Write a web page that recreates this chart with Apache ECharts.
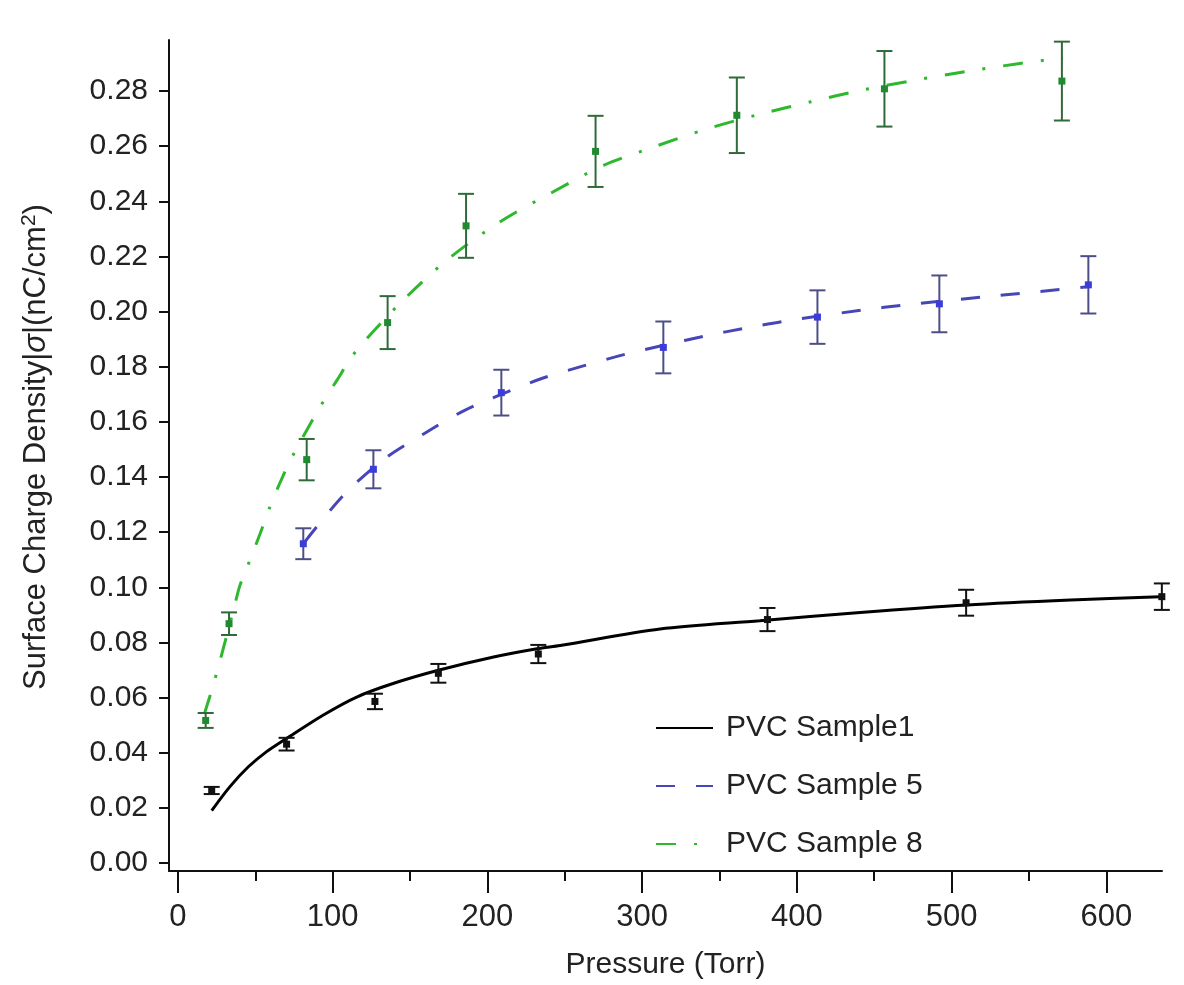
<!DOCTYPE html>
<html>
<head>
<meta charset="utf-8">
<script src="https://cdn.jsdelivr.net/npm/echarts@6/dist/echarts.min.js"></script>
<style>
html,body{margin:0;padding:0;background:#fff;}
#chart{width:1184px;height:985px;}
</style>
</head>
<body>
<div id="chart"></div>
<script>
// ---- tick labels ----
const yTicks = [0, 0.02, 0.04, 0.06, 0.08, 0.10, 0.12, 0.14, 0.16, 0.18, 0.20, 0.22, 0.24, 0.26, 0.28];
const xMajorTicks = [0, 100, 200, 300, 400, 500, 600];
const xMinorTicks = [50, 150, 250, 350, 450, 550];

// ---- series names ----
const seriesNames = ['PVC Sample1', 'PVC Sample 5', 'PVC Sample 8'];

// ---- measured points (pressure, density, error) ----
const s1X = [21.8, 70.2, 127.3, 168.3, 232.9, 381, 509.4, 635.9];
const s1Y = [0.0263, 0.0431, 0.0586, 0.0688, 0.0758, 0.0883, 0.0944, 0.0966];
const s1Err = [0.0013, 0.0023, 0.0028, 0.0034, 0.0033, 0.0042, 0.0047, 0.0048];

const s5X = [81, 126.3, 209, 313.7, 413.3, 492.1, 588.4];
const s5Y = [0.1158, 0.1428, 0.1706, 0.187, 0.198, 0.2028, 0.2097];
const s5Err = [0.0056, 0.0069, 0.0083, 0.0094, 0.0097, 0.0103, 0.0104];

const s8X = [17.9, 33, 83.2, 135.5, 186.2, 269.9, 361.2, 456.6, 571.3];
const s8Y = [0.0517, 0.0868, 0.1463, 0.196, 0.2311, 0.2581, 0.2712, 0.2808, 0.2836];
const s8Err = [0.0027, 0.0041, 0.0075, 0.0096, 0.0116, 0.0129, 0.0137, 0.0137, 0.0143];

// ---- fitted curves ----
const fit1X = [21.8, 33.6, 45.5, 57.3, 70.2, 94, 115.5, 139, 168.3, 204, 232, 247, 311.6, 376, 441, 510, 577, 635];
const fit1Y = [0.019, 0.0277, 0.0349, 0.0404, 0.0452, 0.0537, 0.0602, 0.0651, 0.0699, 0.0747, 0.0777, 0.0789, 0.0849, 0.0879, 0.0909, 0.0936, 0.0954, 0.0966];

const fit5X = [82, 107, 133, 159, 184, 209, 236, 262, 289, 314, 341, 367, 393, 443, 470, 522, 548, 579, 588];
const fit5Y = [0.1165, 0.1334, 0.1464, 0.1557, 0.1638, 0.170, 0.1759, 0.1803, 0.1845, 0.1878, 0.1912, 0.194, 0.1966, 0.2006, 0.2024, 0.2054, 0.2068, 0.2085, 0.209];

const fit8X = [17, 22, 27, 36, 40, 45.5, 53, 59, 66, 73.5, 92, 103, 114, 143.5, 175, 208, 242, 275, 308, 341.5, 374, 409, 442, 474, 509, 543, 572];
const fit8Y = [0.054, 0.063, 0.073, 0.092, 0.1006, 0.1084, 0.1193, 0.1286, 0.138, 0.147, 0.1656, 0.1753, 0.1849, 0.203, 0.2192, 0.2325, 0.2433, 0.253, 0.2598, 0.2662, 0.2713, 0.2761, 0.2803, 0.2837, 0.287, 0.2899, 0.292];

function zip(a, b, c) { return a.map((v, i) => c ? [v, b[i], c[i]] : [v, b[i]]); }

function errRenderer(barColor, dotColor) {
  return function (params, api) {
    const x = api.value(0), y = api.value(1), e = api.value(2);
    const t = api.coord([x, y + e]);
    const b = api.coord([x, y - e]);
    const c = api.coord([x, y]);
    const hw = 8;
    const st = { stroke: barColor, lineWidth: 2 };
    return {
      type: 'group',
      children: [
        { type: 'line', shape: { x1: t[0], y1: t[1], x2: b[0], y2: b[1] }, style: st },
        { type: 'line', shape: { x1: t[0] - hw, y1: t[1], x2: t[0] + hw, y2: t[1] }, style: st },
        { type: 'line', shape: { x1: b[0] - hw, y1: b[1], x2: b[0] + hw, y2: b[1] }, style: st },
        { type: 'rect', shape: { x: c[0] - 3.5, y: c[1] - 3.5, width: 7, height: 7 }, style: { fill: dotColor } }
      ]
    };
  };
}

const FONT = "'Liberation Sans', Arial, sans-serif";
const chart = echarts.init(document.getElementById('chart'), null, { renderer: 'canvas' });

const option = {
  backgroundColor: '#ffffff',
  animation: false,
  grid: { left: 169, right: 22, top: 40, bottom: 112, containLabel: false },
  legend: {
    data: seriesNames,
    orient: 'vertical',
    left: 650,
    top: 708,
    itemWidth: 57,
    itemHeight: 14,
    itemGap: 28,
    itemStyle: { opacity: 0 },
    textStyle: { fontFamily: FONT, fontSize: 30, color: '#222', lineHeight: 30, padding: [0, 0, 0, 8] }
  },
  xAxis: [
    {
      type: 'value', min: -5.8, max: 636, position: 'bottom',
      name: 'Pressure (Torr)', nameLocation: 'middle', nameGap: 79,
      nameTextStyle: { fontFamily: FONT, fontSize: 30, color: '#222' },
      axisLine: { show: true, onZero: false, lineStyle: { color: '#111', width: 2 } },
      axisTick: { show: true, inside: false, length: 22, customValues: xMajorTicks, lineStyle: { color: '#111', width: 2 } },
      axisLabel: { show: true, customValues: xMajorTicks, margin: 31, fontFamily: FONT, fontSize: 31, color: '#222' },
      splitLine: { show: false }
    },
    {
      type: 'value', min: -5.8, max: 636, position: 'bottom',
      axisLine: { show: false, onZero: false },
      axisTick: { show: true, inside: false, length: 10, customValues: xMinorTicks, lineStyle: { color: '#111', width: 2 } },
      axisLabel: { show: false },
      splitLine: { show: false }
    }
  ],
  yAxis: {
    type: 'value', min: -0.0029, max: 0.2985,
    axisLine: { show: true, onZero: false, lineStyle: { color: '#111', width: 2 } },
    axisTick: { show: true, inside: false, length: 10, customValues: yTicks, lineStyle: { color: '#111', width: 2 } },
    axisLabel: { show: true, customValues: yTicks, margin: 21, fontFamily: FONT, fontSize: 30, color: '#222',
      formatter: v => v.toFixed(2) },
    splitLine: { show: false }
  },
  graphic: [
    {
      type: 'text', x: 36, y: 447, rotation: Math.PI / 2,
      style: {
        text: 'Surface Charge Density|{i|σ}|(nC/cm{sup|2})',
        fontFamily: FONT, fontSize: 31, fill: '#222',
        align: 'center', verticalAlign: 'middle',
        rich: {
          i: { fontFamily: FONT, fontSize: 31, fontStyle: 'italic', fill: '#222' },
          sup: { fontFamily: FONT, fontSize: 21, fill: '#222', verticalAlign: 'top', padding: [0, 0, 14, 0] }
        }
      }
    }
  ],
  series: [
    {
      name: seriesNames[0], type: 'line', data: zip(fit1X, fit1Y), smooth: 0.3,
      symbol: 'none', lineStyle: { color: '#000', width: 3, type: 'solid' }, itemStyle: { color: '#000' }, z: 3
    },
    {
      name: seriesNames[1], type: 'line', data: zip(fit5X, fit5Y), smooth: 0.3,
      symbol: 'none', lineStyle: { color: '#4646b8', width: 3, type: [19, 21] }, itemStyle: { color: '#4646b8' }, z: 3
    },
    {
      name: seriesNames[2], type: 'line', data: zip(fit8X, fit8Y), smooth: 0.3,
      symbol: 'none', lineStyle: { color: '#2db82d', width: 3, type: [20, 18, 3, 18] }, itemStyle: { color: '#2db82d' }, z: 3
    },
    {
      name: 'err1', type: 'custom', data: zip(s1X, s1Y, s1Err), renderItem: errRenderer('#111', '#111'),
      encode: { x: 0, y: 1 }, z: 4
    },
    {
      name: 'err5', type: 'custom', data: zip(s5X, s5Y, s5Err), renderItem: errRenderer('#4c4f86', '#3c3cd8'),
      encode: { x: 0, y: 1 }, z: 4
    },
    {
      name: 'err8', type: 'custom', data: zip(s8X, s8Y, s8Err), renderItem: errRenderer('#2f6b3a', '#1f8a2f'),
      encode: { x: 0, y: 1 }, z: 4
    }
  ]
};
chart.setOption(option);
</script>
</body>
</html>
